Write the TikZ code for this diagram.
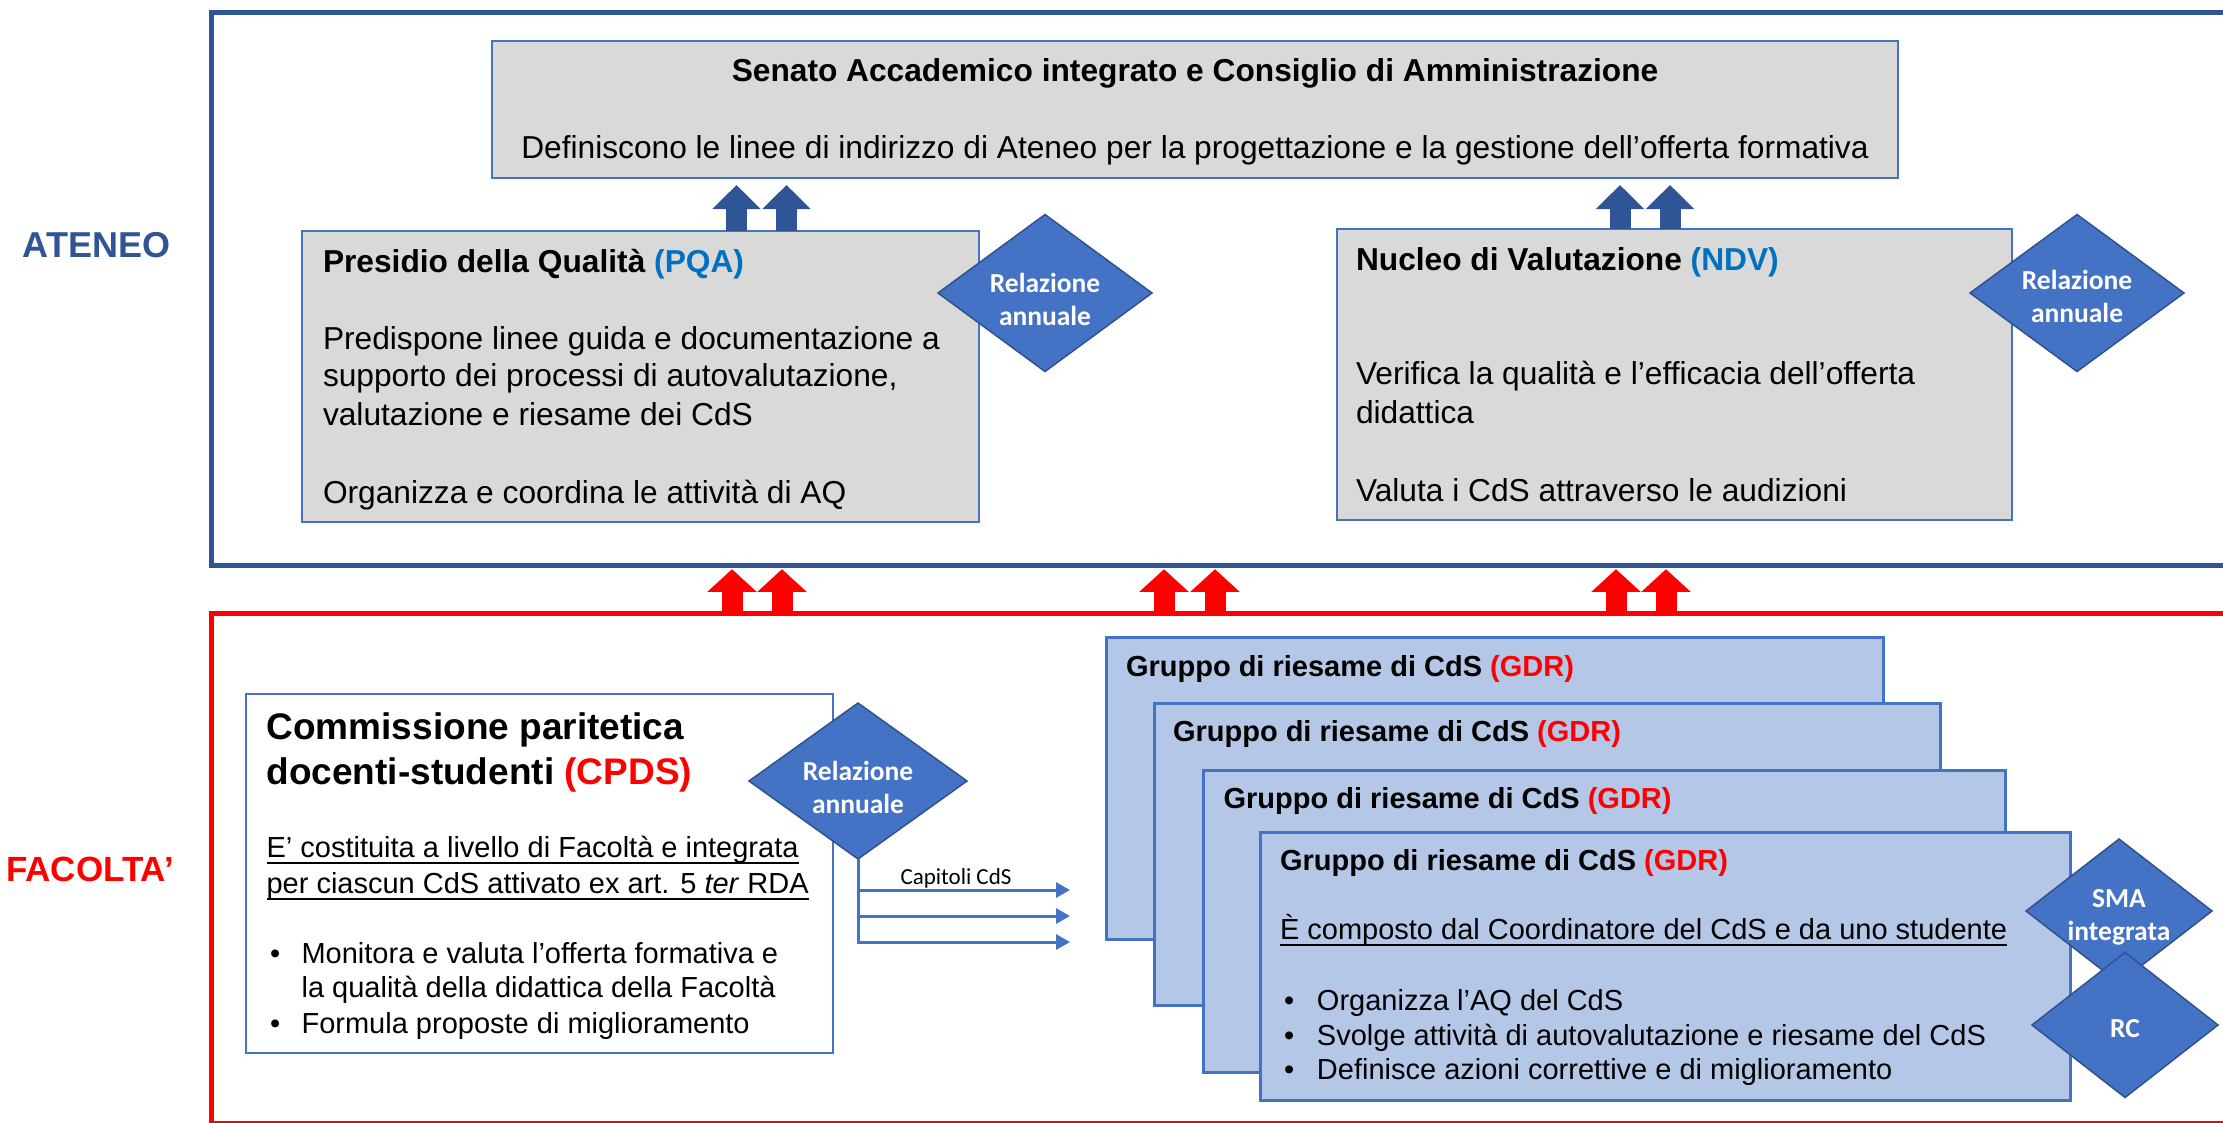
\documentclass[tikz,border=0pt]{standalone}
\usepackage{fontspec}
\setmainfont{Liberation Sans}
\newfontfamily\carlito{Carlito}
\usetikzlibrary{shapes.geometric,arrows.meta,calc}
\definecolor{ateneoblue}{HTML}{2F5597}
\definecolor{boxblue}{HTML}{4472C4}
\definecolor{diaborder}{HTML}{2F528F}
\definecolor{gdrfill}{HTML}{B4C7E7}
\definecolor{grayfill}{HTML}{D9D9D9}
\definecolor{pqablue}{HTML}{0070C0}
\definecolor{facred}{HTML}{FF0000}
\newcommand\myul[1]{\setbox0\hbox{#1}\rlap{\rule[-6.5pt]{\wd0}{2pt}}\box0}
\begin{document}
\begin{tikzpicture}[x=1pt,y=-1pt,
 txt/.style={anchor=base west,inner sep=0,outer sep=0},
 tA/.style={txt,font=\fontsize{31.7}{38}\selectfont},
 bA/.style={txt,font=\bfseries\fontsize{31.7}{38}\selectfont},
 tB/.style={txt,font=\fontsize{29}{35}\selectfont},
 bB/.style={txt,font=\bfseries\fontsize{29}{35}\selectfont},
 bC/.style={txt,font=\bfseries\fontsize{37}{43}\selectfont},
 frame/.style={rectangle,anchor=north west,inner sep=0,outer sep=0,line width=5pt},
 graybox/.style={rectangle,anchor=north west,inner sep=0,outer sep=0,draw=boxblue,fill=grayfill,line width=2pt},
 whitebox/.style={graybox,fill=white},
 gdrbox/.style={graybox,fill=gdrfill,line width=3pt},
 diam/.style={diamond,draw=diaborder,fill=boxblue,line width=1.5pt,inner sep=0,outer sep=0},
 diamtxt/.style={inner sep=0,outer sep=0,text=white,align=center,font=\carlito\bfseries\fontsize{27.5}{33}\selectfont},
 bluearrow/.style={draw=ateneoblue,line width=21pt,-{Triangle[length=24pt,width=47pt]}},
 redarrow/.style={draw=facred,line width=21pt,-{Triangle[length=22.6pt,width=48pt]}},
 capline/.style={draw=boxblue,line width=3pt,-{Triangle[length=14pt,width=15pt]}}
]
\useasboundingbox (0,0) rectangle (2223,1122);
\clip (0,0) rectangle (2223,1122);

% outer frames
\node[frame,draw=ateneoblue,minimum width=2040,minimum height=553.5] (atbox) at (211,12.2) {};
\node[frame,draw=facred,minimum width=2040,minimum height=510] (facbox) at (211,613) {};

\node[txt,font=\bfseries\fontsize{36}{43}\selectfont,text=ateneoblue] (atlbl) at (23,257) {ATENEO};
\node[txt,font=\bfseries\fontsize{35}{42}\selectfont,text=facred] (faclbl) at (6,881) {FACOLTA’};

% Senato
\node[graybox,minimum width=1406,minimum height=136.2] (senato) at (492,41.4) {};
\node[bA,anchor=base] (senatot) at (1195,81.4) {Senato Accademico integrato e Consiglio di Amministrazione};
\node[tA,anchor=base] (senatod) at (1195,158.3) {Definiscono le linee di indirizzo di Ateneo per la progettazione e la gestione dell’offerta formativa};

% PQA
\node[graybox,minimum width=677,minimum height=291] (pqa) at (302,231) {};
\node[bA] (pqat) at (323,272) {Presidio della Qualità \textcolor{pqablue}{(PQA)}};
\node[tA] (pqa1) at (323,349) {Predispone linee guida e documentazione a};
\node[tA] (pqa2) at (323,386.6) {supporto dei processi di autovalutazione,};
\node[tA] (pqa3) at (323,425.5) {valutazione e riesame dei CdS};
\node[tA] (pqa4) at (323,503) {Organizza e coordina le attività di AQ};

% NDV
\node[graybox,minimum width=675,minimum height=291] (ndv) at (1337,229) {};
\node[bA] (ndvt) at (1356,270) {Nucleo di Valutazione \textcolor{pqablue}{(NDV)}};
\node[tA] (ndv1) at (1356,384.8) {Verifica la qualità e l’efficacia dell’offerta};
\node[tA] (ndv2) at (1356,423.6) {didattica};
\node[tA] (ndv3) at (1356,501) {Valuta i CdS attraverso le audizioni};

\node[diam,minimum width=214,minimum height=157,shape aspect=1.36] (pqadia) at (1045,293) {};
\node[diamtxt] (pqadiat) at ($(pqadia.center)+(0,6)$) {Relazione\\annuale};
\node[diam,minimum width=214,minimum height=157,shape aspect=1.36] (ndvdia) at (2077,293) {};
\node[diamtxt] (ndvdiat) at ($(ndvdia.center)+(0,3)$) {Relazione\\annuale};

% blue arrows
\draw[bluearrow] ($(pqa.north)+(96,0)$) -- ($(pqa.north |- senato.south)+(96,7.4)$);
\draw[bluearrow] ($(pqa.north)+(146,0)$) -- ($(pqa.north |- senato.south)+(146,7.4)$);
\draw[bluearrow] ($(ndv.north)+(-54.5,0)$) -- ($(ndv.north |- senato.south)+(-54.5,7.4)$);
\draw[bluearrow] ($(ndv.north)+(-4.5,0)$) -- ($(ndv.north |- senato.south)+(-4.5,7.4)$);

% red arrows
\foreach \dx in {521,571,953,1004,1405,1455}{
  \draw[redarrow] ($(facbox.north west)+(\dx,0)$) -- ($(atbox.south west)+(\dx,3.5)$);
}

% CPDS
\node[whitebox,minimum width=587,minimum height=358.4] (cpds) at (246,694.4) {};
\node[bC] (cpdst1) at (266.6,739) {Commissione paritetica};
\node[bC] (cpdst2) at (266.6,784) {docenti-studenti \textcolor{facred}{(CPDS)}};
\node[tB] (cpds1) at (266.6,857.5) {\myul{E’ costituita a livello di Facoltà e integrata}};
\node[tB] (cpds2) at (266.6,893) {\myul{per ciascun CdS attivato ex art. 5 \textit{ter} RDA}};
\node[tB] (cpds3) at (270,963) {\makebox[31.6pt][l]{•}Monitora e valuta l’offerta formativa e};
\node[tB] (cpds4) at (301.6,997) {la qualità della didattica della Facoltà};
\node[tB] (cpds5) at (270,1033) {\makebox[31.6pt][l]{•}Formula proposte di miglioramento};

\node[diam,minimum width=218,minimum height=156,shape aspect=1.4] (cpdsdia) at (858,781) {};
\node[diamtxt] (cpdsdiat) at ($(cpdsdia.center)+(0,6)$) {Relazione\\annuale};

\coordinate (cap1) at (1070,890);
\coordinate (cap2) at (1070,916);
\coordinate (cap3) at (1070,942);
\draw[capline] (cpdsdia.south) |- (cap3);
\draw[capline] (cpdsdia.south |- cap1) -- (cap1);
\draw[capline] (cpdsdia.south |- cap2) -- (cap2);
\node[anchor=base,inner sep=0,font=\carlito\fontsize{23}{27}\selectfont] (caplbl) at (956,884) {Capitoli CdS};

% GDR
\node[gdrbox,minimum width=777,minimum height=302.5] (g1) at (1106,637) {};
\node[bB] (g1t) at (1126,676) {Gruppo di riesame di CdS \textcolor{facred}{(GDR)}};
\node[gdrbox,minimum width=786,minimum height=301.5] (g2) at (1154,703.5) {};
\node[bB] (g2t) at (1173,741.5) {Gruppo di riesame di CdS \textcolor{facred}{(GDR)}};
\node[gdrbox,minimum width=802,minimum height=302] (g3) at (1203,770) {};
\node[bB] (g3t) at (1223.6,808) {Gruppo di riesame di CdS \textcolor{facred}{(GDR)}};
\node[gdrbox,minimum width=810,minimum height=268] (g4) at (1260,832) {};
\node[bB] (g4t) at (1280,870) {Gruppo di riesame di CdS \textcolor{facred}{(GDR)}};
\node[tB] (g41) at (1280,939.5) {\myul{È composto dal Coordinatore del CdS e da uno studente}};
\node[tB] (g42) at (1284,1010) {\makebox[33pt][l]{•}Organizza l’AQ del CdS};
\node[tB] (g43) at (1284,1045.4) {\makebox[33pt][l]{•}Svolge attività di autovalutazione e riesame del CdS};
\node[tB] (g44) at (1284,1079.4) {\makebox[33pt][l]{•}Definisce azioni correttive e di miglioramento};

\node[diam,minimum width=186,minimum height=144,shape aspect=1.29] (sma) at (2119,911) {};
\node[diamtxt] (smat) at ($(sma.center)+(0,6)$) {SMA\\integrata};
\node[diam,minimum width=186,minimum height=145,shape aspect=1.29] (rc) at (2125,1025) {};
\node[diamtxt] (rct) at ($(rc.center)+(0,4)$) {RC};
\end{tikzpicture}
\end{document}
